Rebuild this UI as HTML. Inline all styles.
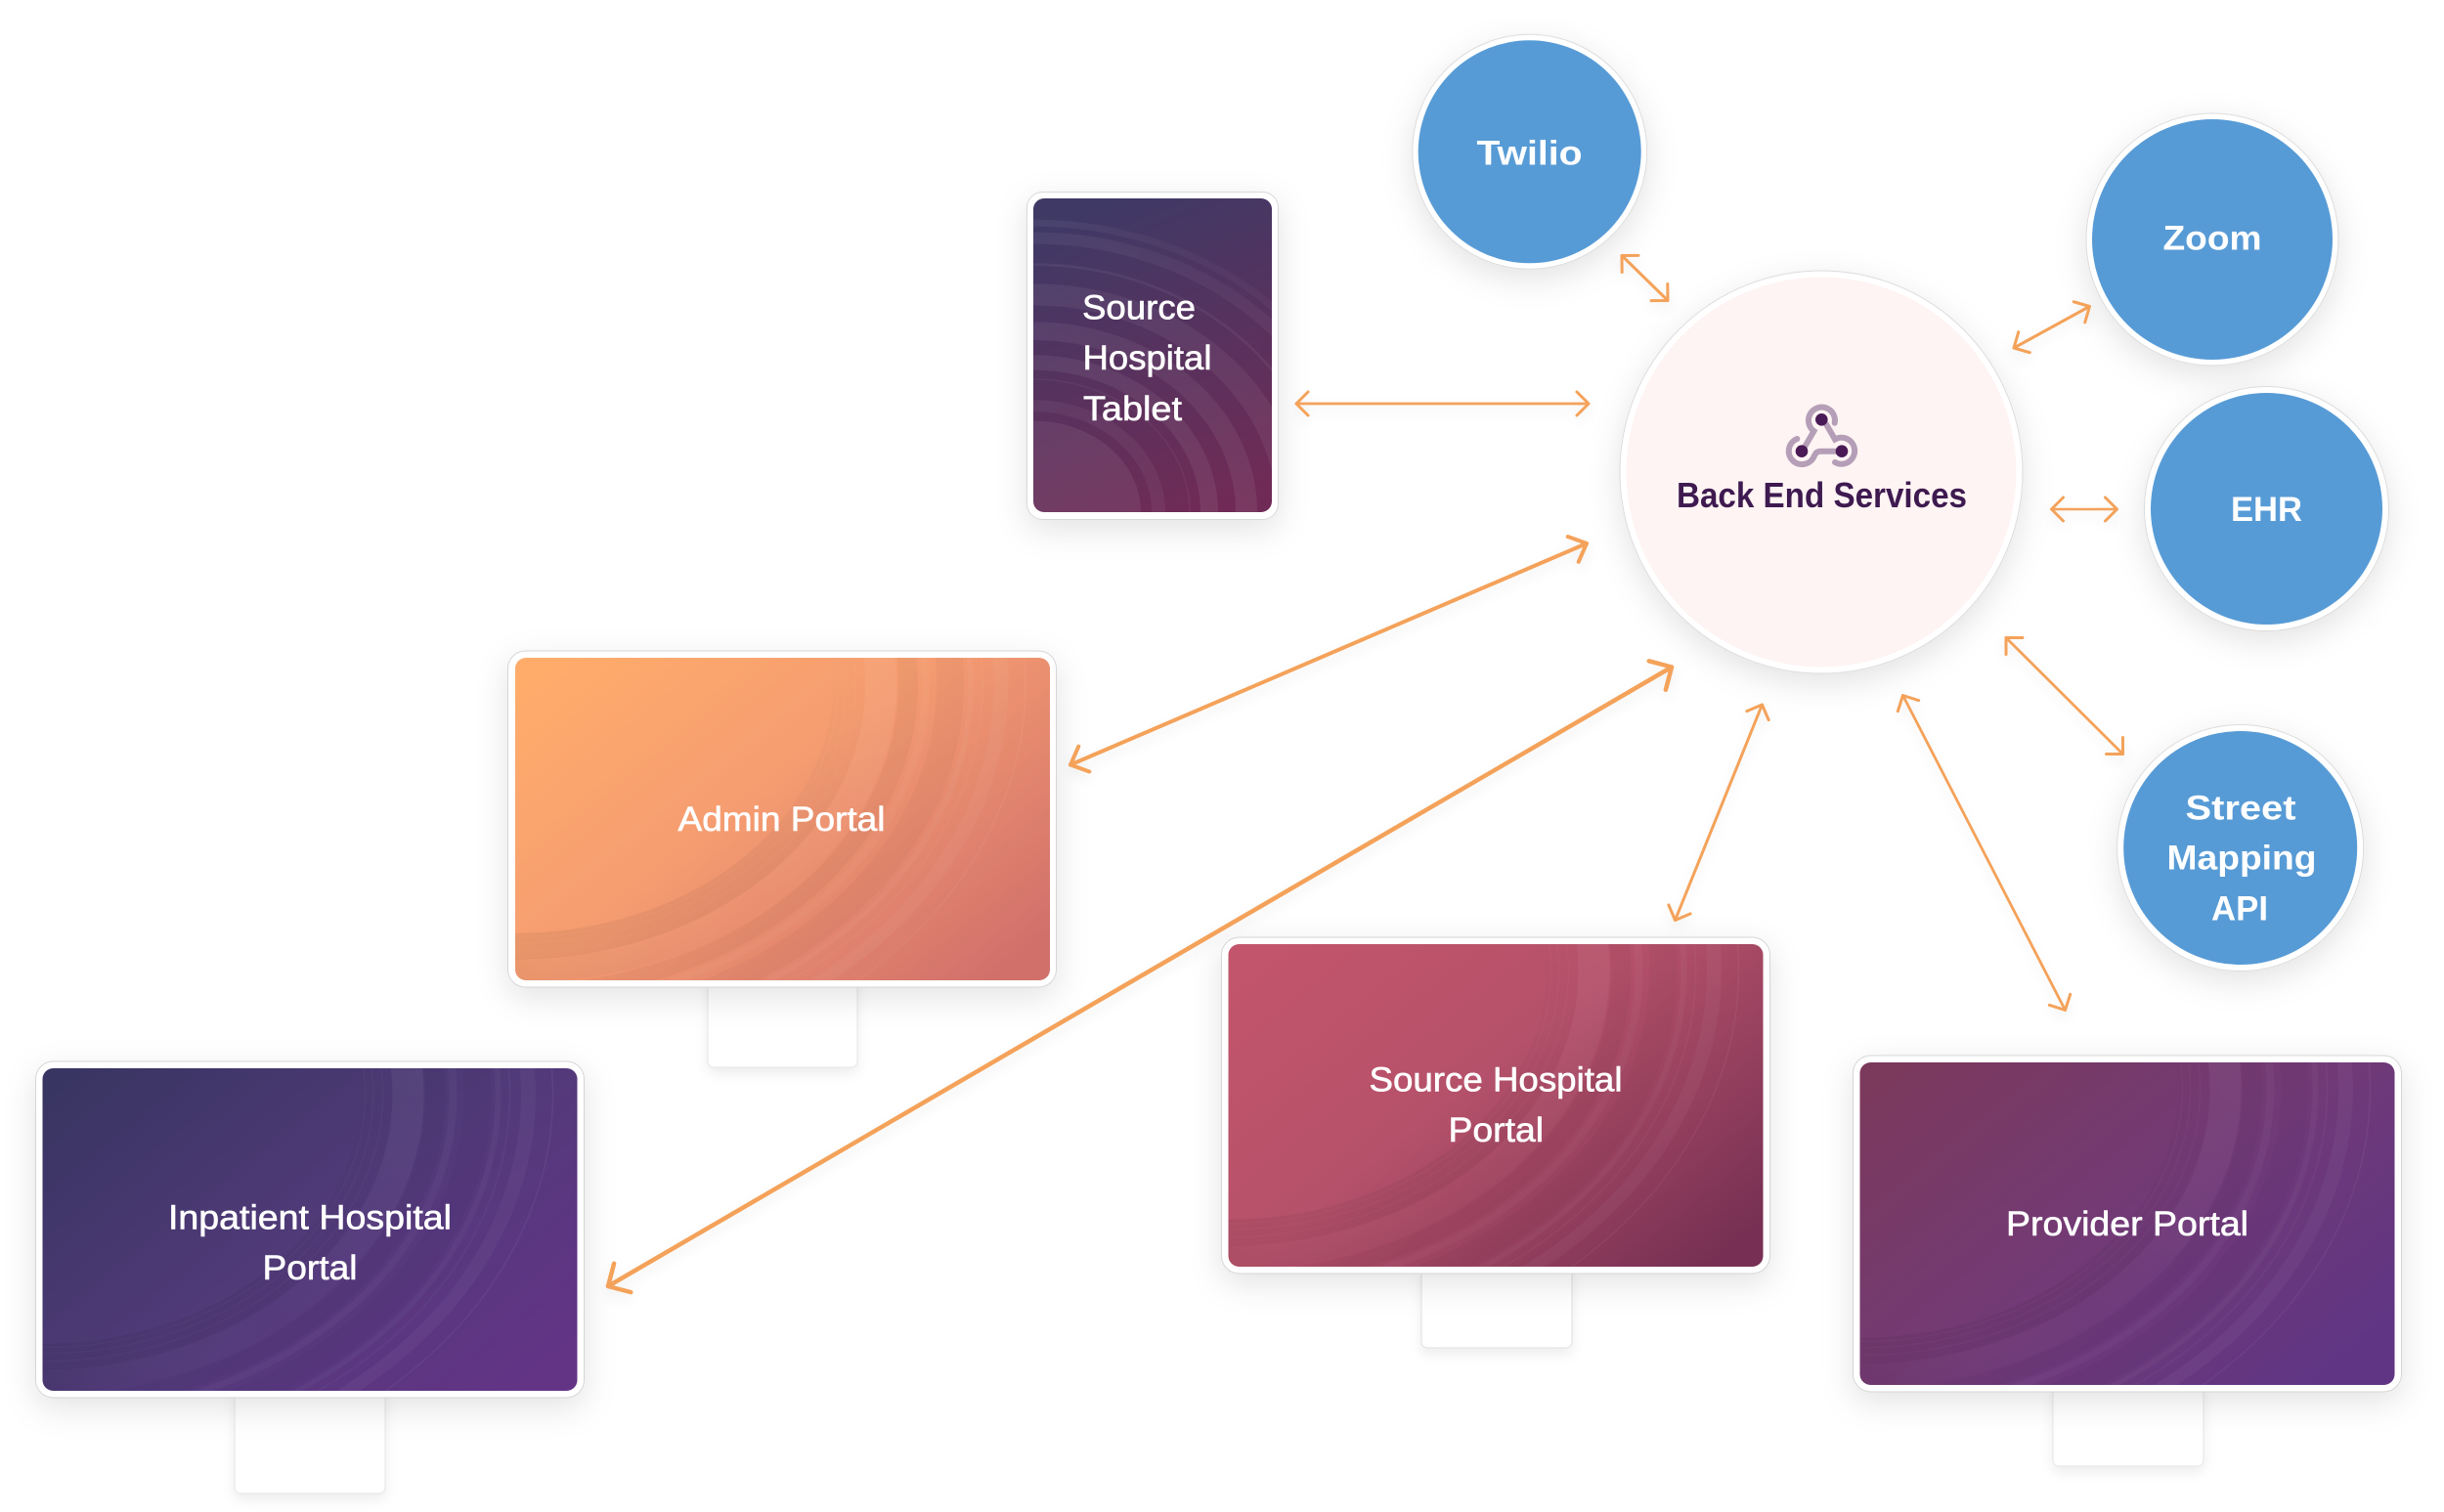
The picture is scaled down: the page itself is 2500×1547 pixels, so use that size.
<!DOCTYPE html>
<html>
<head>
<meta charset="utf-8">
<style>
html,body{margin:0;padding:0;background:#fff;width:2500px;height:1547px;overflow:hidden}
svg{display:block}
text{font-family:"Liberation Sans",sans-serif}
.w{fill:#fff;font-size:35px;text-anchor:start;stroke:#fff;stroke-width:.6}
.b{fill:#fff;font-size:35px;font-weight:bold}
.ar{fill:none;stroke:#f4a25a;stroke-linecap:round}
</style>
</head>
<body>
<svg width="2500" height="1547" viewBox="0 0 2500 1547" xmlns="http://www.w3.org/2000/svg">
<defs>
<filter id="sh" x="-25%" y="-25%" width="150%" height="150%"><feDropShadow dx="0" dy="10" stdDeviation="16" flood-color="#000" flood-opacity=".11"/></filter>
<filter id="sa" x="-30%" y="-30%" width="160%" height="160%"><feDropShadow dx="0" dy="6" stdDeviation="6" flood-color="#000" flood-opacity=".07"/></filter>
<marker id="mS" markerUnits="userSpaceOnUse" markerWidth="40" markerHeight="40" viewBox="-30 -20 40 40" refX="0" refY="0" orient="auto-start-reverse" overflow="visible"><path d="M-12 -12L0 0L-12 12" fill="none" stroke="#f4a25a" stroke-width="3" stroke-linecap="round" stroke-linejoin="round"/></marker>
<marker id="mL" markerUnits="userSpaceOnUse" markerWidth="40" markerHeight="40" viewBox="-30 -20 40 40" refX="0" refY="0" orient="auto-start-reverse" overflow="visible"><path d="M-15 -14L0 0L-15 14" fill="none" stroke="#f4a25a" stroke-width="4" stroke-linecap="round" stroke-linejoin="round"/></marker>
<marker id="mX" markerUnits="userSpaceOnUse" markerWidth="48" markerHeight="48" viewBox="-36 -24 48 48" refX="0" refY="0" orient="auto-start-reverse" overflow="visible"><path d="M-17 -17L0 0L-17 17" fill="none" stroke="#f4a25a" stroke-width="4.5" stroke-linecap="round" stroke-linejoin="round"/></marker>

<linearGradient id="gA" x1="0" y1=".1" x2="1" y2=".85"><stop offset="0" stop-color="#ffac6b"/><stop offset=".45" stop-color="#f59c71"/><stop offset="1" stop-color="#d1706b"/></linearGradient>
<linearGradient id="gI" x1="0" y1=".1" x2="1" y2=".85"><stop offset="0" stop-color="#393562"/><stop offset=".5" stop-color="#503a78"/><stop offset="1" stop-color="#633486"/></linearGradient>
<linearGradient id="gS" x1="0" y1=".1" x2="1" y2=".85"><stop offset="0" stop-color="#c2556b"/><stop offset=".45" stop-color="#b5516a"/><stop offset="1" stop-color="#773053"/></linearGradient>
<linearGradient id="gP" x1="0" y1=".1" x2="1" y2=".85"><stop offset="0" stop-color="#7b395c"/><stop offset=".5" stop-color="#723a76"/><stop offset="1" stop-color="#5f3584"/></linearGradient>
<linearGradient id="gT" x1=".35" y1="0" x2=".65" y2="1"><stop offset="0" stop-color="#3f3966"/><stop offset="1" stop-color="#6f2b56"/></linearGradient>

<linearGradient id="bd" gradientUnits="userSpaceOnUse" x1="0" y1="380" x2="370" y2="-30"><stop offset="0" stop-color="#000" stop-opacity=".06"/><stop offset=".5" stop-color="#000" stop-opacity=".045"/><stop offset="1" stop-color="#000" stop-opacity="0"/></linearGradient>
<linearGradient id="bl" gradientUnits="userSpaceOnUse" x1="0" y1="380" x2="370" y2="-30"><stop offset="0" stop-color="#000" stop-opacity=".05"/><stop offset=".4" stop-color="#fff" stop-opacity=".01"/><stop offset="1" stop-color="#fff" stop-opacity=".05"/></linearGradient>

<g id="sw" fill="none">
  <g transform="translate(0 27) scale(1 .784)">
    <circle r="342" stroke="url(#bd)" stroke-width="34"/>
    <circle r="374" stroke="url(#bl)" stroke-width="32"/>
    <circle r="330" stroke="#fff" stroke-opacity=".04" stroke-width="1"/>
    <circle r="338" stroke="#fff" stroke-opacity=".04" stroke-width="1"/>
    <circle r="348" stroke="#fff" stroke-opacity=".04" stroke-width="1"/>
    <circle r="402" stroke="#000" stroke-opacity=".03" stroke-width="20"/>
    <circle r="420" stroke="#fff" stroke-opacity=".03" stroke-width="8"/>
    <circle r="445" stroke="#000" stroke-opacity=".025" stroke-width="28"/>
    <circle r="466" stroke="#fff" stroke-opacity=".035" stroke-width="6"/>
    <circle r="478" stroke="#fff" stroke-opacity=".03" stroke-width="2"/>
    <circle r="497" stroke="#fff" stroke-opacity=".04" stroke-width="15"/>
    <circle r="522" stroke="#fff" stroke-opacity=".05" stroke-width="1.5"/>
  </g>
</g>
<clipPath id="cM"><rect width="547" height="330" rx="11"/></clipPath>
<clipPath id="cT"><rect width="244" height="321" rx="11"/></clipPath>
<linearGradient id="tf" gradientUnits="userSpaceOnUse" x1="0" y1="0" x2="230" y2="-340"><stop offset="0" stop-color="#fff" stop-opacity=".08"/><stop offset=".75" stop-color="#fff" stop-opacity=".05"/><stop offset="1" stop-color="#fff" stop-opacity="0"/></linearGradient>
</defs>

<!-- Monitors -->
<g id="admin">
  <rect x="724" y="1000" width="153" height="92" rx="6" fill="#fff" stroke="#e6e6e6" filter="url(#sa)"/>
  <rect x="519.5" y="666" width="561" height="344" rx="18" fill="#fff" stroke="#d6d6d6" filter="url(#sh)"/>
  <g transform="translate(527 673)"><rect width="547" height="330" rx="11" fill="url(#gA)"/><g clip-path="url(#cM)"><use href="#sw"/></g></g>
  <text class="w" x="693.5" y="850" textLength="212" lengthAdjust="spacingAndGlyphs">Admin Portal</text>
</g>
<g id="inpatient">
  <rect x="240" y="1420" width="154" height="108" rx="6" fill="#fff" stroke="#e6e6e6" filter="url(#sa)"/>
  <rect x="36.5" y="1086" width="561" height="344" rx="18" fill="#fff" stroke="#d6d6d6" filter="url(#sh)"/>
  <g transform="translate(43.5 1093)"><rect width="547" height="330" rx="11" fill="url(#gI)"/><g clip-path="url(#cM)"><use href="#sw"/></g></g>
  <text class="w" x="172" y="1257.5" textLength="290" lengthAdjust="spacingAndGlyphs">Inpatient Hospital</text>
  <text class="w" x="268.5" y="1309" textLength="97" lengthAdjust="spacingAndGlyphs">Portal</text>
</g>
<g id="source">
  <rect x="1454" y="1295" width="154" height="84" rx="6" fill="#fff" stroke="#e0e0e0" filter="url(#sa)"/>
  <rect x="1249.5" y="959" width="561" height="344" rx="18" fill="#fff" stroke="#d6d6d6" filter="url(#sh)"/>
  <g transform="translate(1256.5 966)"><rect width="547" height="330" rx="11" fill="url(#gS)"/><g clip-path="url(#cM)"><use href="#sw"/></g></g>
  <text class="w" x="1400.5" y="1116.5" textLength="259" lengthAdjust="spacingAndGlyphs">Source Hospital</text>
  <text class="w" x="1481.5" y="1168" textLength="97.5" lengthAdjust="spacingAndGlyphs">Portal</text>
</g>
<g id="provider">
  <rect x="2100" y="1415" width="154" height="85" rx="6" fill="#fff" stroke="#e6e6e6" filter="url(#sa)"/>
  <rect x="1895.5" y="1080" width="561" height="344" rx="18" fill="#fff" stroke="#d6d6d6" filter="url(#sh)"/>
  <g transform="translate(1902.5 1087)"><rect width="547" height="330" rx="11" fill="url(#gP)"/><g clip-path="url(#cM)"><use href="#sw"/></g></g>
  <text class="w" x="2052" y="1264" textLength="248" lengthAdjust="spacingAndGlyphs">Provider Portal</text>
</g>

<!-- Tablet -->
<g id="tablet">
  <rect x="1050.5" y="196.5" width="257" height="335" rx="16" fill="#fff" stroke="#d8d8d8" filter="url(#sh)"/>
  <g transform="translate(1057 203)">
    <rect width="244" height="321" rx="11" fill="url(#gT)"/>
    <g clip-path="url(#cT)" fill="none">
      <g transform="translate(0 321) scale(1 .85)">
        <circle r="110" fill="#fff" fill-opacity=".07"/>
        <circle r="128" stroke="#fff" stroke-opacity=".05" stroke-width="14"/>
        <circle r="160" stroke="#fff" stroke-opacity=".04" stroke-width="2"/>
        <circle r="180" stroke="url(#tf)" stroke-width="18"/>
        <circle r="218" stroke="url(#tf)" stroke-width="22"/>
        <circle r="262" stroke="url(#tf)" stroke-width="26"/>
        <circle r="298" stroke="url(#tf)" stroke-width="3"/>
        <circle r="330" stroke="url(#tf)" stroke-width="14"/>
        <circle r="348" stroke="url(#tf)" stroke-width="8"/>
      </g>
    </g>
  </g>
  <text class="w" x="1107" y="326.5" textLength="116" lengthAdjust="spacingAndGlyphs">Source</text>
  <text class="w" x="1107.5" y="378" textLength="132" lengthAdjust="spacingAndGlyphs">Hospital</text>
  <text class="w" x="1108" y="430" textLength="101" lengthAdjust="spacingAndGlyphs">Tablet</text>
</g>

<!-- Center circle -->
<circle cx="1863" cy="483" r="206" fill="#fff" stroke="#dcdcdc" filter="url(#sh)"/>
<circle cx="1863" cy="483" r="199.5" fill="#fef4f3"/>
<g fill="none" stroke="#b59eb7" stroke-width="6" stroke-linecap="round">
  <path d="M1876.7 432.7A13.5 13.5 0 1 0 1855.5 441L1845 459"/>
  <path d="M1868 434L1877 449.5A13.5 13.5 0 1 1 1877 473"/>
  <path d="M1838.3 449A13.5 13.5 0 1 0 1856 466Q1858 461.7 1862 461.7L1878 461.7"/>
</g>
<circle cx="1863.3" cy="429.3" r="6.3" fill="#4a1a57"/>
<circle cx="1843" cy="461.7" r="6.3" fill="#4a1a57"/>
<circle cx="1884" cy="461.7" r="6.3" fill="#4a1a57"/>
<text x="1715" y="519" font-size="36" font-weight="bold" fill="#3e1a50" textLength="297" lengthAdjust="spacingAndGlyphs">Back End Services</text>

<!-- Blue circles -->
<g>
  <circle cx="1564.7" cy="155.3" r="120" fill="#fff" stroke="#dcdcdc" filter="url(#sh)"/>
  <circle cx="1564.7" cy="155.3" r="114" fill="#579bd6"/>
  <text class="b" x="1510.5" y="168.3" textLength="108" lengthAdjust="spacingAndGlyphs">Twilio</text>

  <circle cx="2263" cy="245" r="129" fill="#fff" stroke="#dcdcdc" filter="url(#sh)"/>
  <circle cx="2263" cy="245" r="123" fill="#579bd6"/>
  <text class="b" x="2212.5" y="255.7" textLength="101" lengthAdjust="spacingAndGlyphs">Zoom</text>

  <circle cx="2318.5" cy="520.5" r="125" fill="#fff" stroke="#dcdcdc" filter="url(#sh)"/>
  <circle cx="2318.5" cy="520.5" r="118.5" fill="#579bd6"/>
  <text class="b" x="2282" y="533" textLength="73" lengthAdjust="spacingAndGlyphs">EHR</text>

  <circle cx="2291.7" cy="867.5" r="126" fill="#fff" stroke="#dcdcdc" filter="url(#sh)"/>
  <circle cx="2291.7" cy="867.5" r="119.5" fill="#579bd6"/>
  <text class="b" x="2235.5" y="838.3" textLength="113" lengthAdjust="spacingAndGlyphs">Street</text>
  <text class="b" x="2216.5" y="889.3" textLength="153" lengthAdjust="spacingAndGlyphs">Mapping</text>
  <text class="b" x="2262" y="941.7" textLength="58" lengthAdjust="spacingAndGlyphs">API</text>
</g>

<!-- Arrows -->
<g class="ar" filter="url(#sa)">
  <line x1="1659" y1="261.5" x2="1706" y2="307.5" stroke-width="3" marker-start="url(#mS)" marker-end="url(#mS)"/>
  <line x1="2060" y1="356" x2="2137.5" y2="313.5" stroke-width="3" marker-start="url(#mS)" marker-end="url(#mS)"/>
  <line x1="2098.5" y1="521" x2="2165.5" y2="521" stroke-width="2.5" marker-start="url(#mS)" marker-end="url(#mS)"/>
  <line x1="2052" y1="652.5" x2="2171.5" y2="771.5" stroke-width="2.8" marker-start="url(#mS)" marker-end="url(#mS)"/>
  <line x1="1946.5" y1="711.5" x2="2112.5" y2="1033.5" stroke-width="2.8" marker-start="url(#mS)" marker-end="url(#mS)"/>
  <line x1="1802.5" y1="721" x2="1713.5" y2="941.5" stroke-width="3" marker-start="url(#mS)" marker-end="url(#mS)"/>
  <line x1="1710" y1="682.5" x2="622" y2="1316" stroke-width="4.5" marker-start="url(#mX)" marker-end="url(#mX)"/>
  <line x1="1623" y1="556" x2="1095" y2="782.5" stroke-width="4" marker-start="url(#mL)" marker-end="url(#mL)"/>
  <line x1="1326" y1="413" x2="1625" y2="413" stroke-width="2.8" marker-start="url(#mS)" marker-end="url(#mS)"/>
</g>
</svg>
</body>
</html>
